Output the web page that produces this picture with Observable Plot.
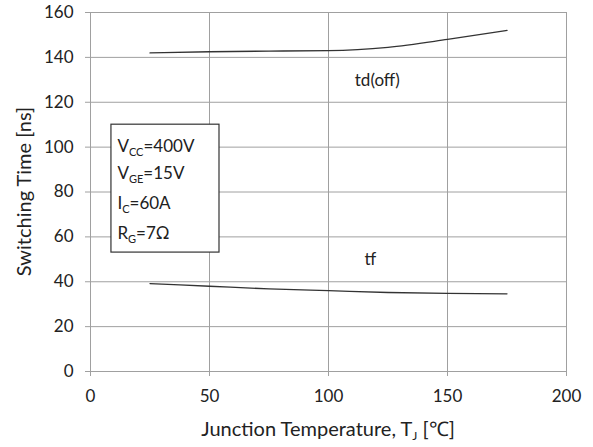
<!DOCTYPE html>
<html><head><meta charset="utf-8">
<script src="https://cdn.jsdelivr.net/npm/d3@7"></script>
<script src="https://cdn.jsdelivr.net/npm/@observablehq/plot@0.6"></script>
<style>body{margin:0;background:#fff;} svg{font-family:Lato,"Open Sans",sans-serif;}</style>
</head><body><div id="chart"></div>
<script>
const temps = [25, 50, 75, 100, 125, 150, 175];
const tdOff = [142, 142.5, 142.8, 143, 144.5, 148, 152];
const tf = [39.2, 38, 36.8, 36, 35.2, 34.8, 34.6];
const xTicks = [0, 50, 100, 150, 200];
const yTicks = [0, 20, 40, 60, 80, 100, 120, 140, 160];
const seriesNames = ["td(off)", "tf"];
const seriesLabelX = [120.5, 117.6];
const seriesLabelY = [129.7, 49.8];
const paramMain = ["V", "V", "I", "R"];
const paramSub = ["CC", "GE", "C", "G"];
const paramRest = ["=400V", "=15V", "=60A", "=7Ω"];
const paramY = [100.4, 88.1, 74.7, 61.4];
const paramX = 11.3;
const boxX = [8.8, 54.2];
const boxY = [53, 110];

const lines = [
  ...temps.map((t, i) => ({x: t, y: tdOff[i], s: seriesNames[0]})),
  ...temps.map((t, i) => ({x: t, y: tf[i], s: seriesNames[1]}))
];
const labels = seriesNames.map((n, i) => ({x: seriesLabelX[i], y: seriesLabelY[i], t: n}));
const params = paramMain.map((m, i) => ({x: paramX, y: paramY[i], main: m, sub: paramSub[i], rest: paramRest[i]}));

const plot = Plot.plot({
  width: 593, height: 447,
  marginLeft: 90, marginRight: 27, marginTop: 12, marginBottom: 76,
  style: {fontFamily: "Lato, 'Open Sans', sans-serif", fontSize: "17px", color: "#222", background: "#fff"},
  x: {domain: [0, 200]},
  y: {domain: [0, 160]},
  marks: [
    Plot.gridX(xTicks, {stroke: "#a0a0a0", strokeOpacity: 1}),
    Plot.gridY(yTicks, {stroke: "#a0a0a0", strokeOpacity: 1}),
    Plot.axisX({ticks: xTicks, tickSize: 5, tickPadding: 13, stroke: "#a0a0a0", label: null, fontSize: 17}),
    Plot.axisY({ticks: yTicks, tickSize: 5, tickPadding: 12, stroke: "#a0a0a0", label: null, fontSize: 17}),
    Plot.line(lines, {x: "x", y: "y", z: "s", stroke: "#333", strokeWidth: 1.3, curve: "monotone-x"}),
    Plot.text(labels, {x: "x", y: "y", text: "t", fontSize: 17, fill: "#222"}),
    Plot.rect([{x1: boxX[0], x2: boxX[1], y1: boxY[0], y2: boxY[1]}], {x1: "x1", x2: "x2", y1: "y1", y2: "y2", fill: "#fff", stroke: "#333", strokeWidth: 1.2}),
    Plot.text(params, {x: "x", y: "y", text: "main", textAnchor: "start", fontSize: 17, fill: "#212121"})
  ]
});
document.getElementById("chart").append(plot);

const svg = d3.select(plot);
svg.selectAll("text").filter(function() {
  return this.closest('g[fill="#212121"]') !== null;
}).each(function(_, i) {
  const p = params[i];
  const t = d3.select(this);
  t.text(null);
  t.append("tspan").text(p.main);
  t.append("tspan").attr("font-size", 11).attr("dy", 4).text(p.sub);
  t.append("tspan").attr("dy", -4).text(p.rest);
});
// x axis title with subscript
const xt = svg.append("text")
  .attr("x", (90 + 566) / 2).attr("y", 436)
  .attr("text-anchor", "middle").attr("font-size", 20).attr("fill", "#222");
xt.append("tspan").text("Junction Temperature, T");
xt.append("tspan").attr("font-size", 12).attr("dy", 4).text("J");
xt.append("tspan").attr("dy", -4).text(" [℃]");
// y axis title
svg.append("text")
  .attr("transform", `translate(31,${(12 + 371) / 2}) rotate(-90)`)
  .attr("text-anchor", "middle").attr("font-size", 20).attr("fill", "#222")
  .text("Switching Time [ns]");
</script></body></html>
